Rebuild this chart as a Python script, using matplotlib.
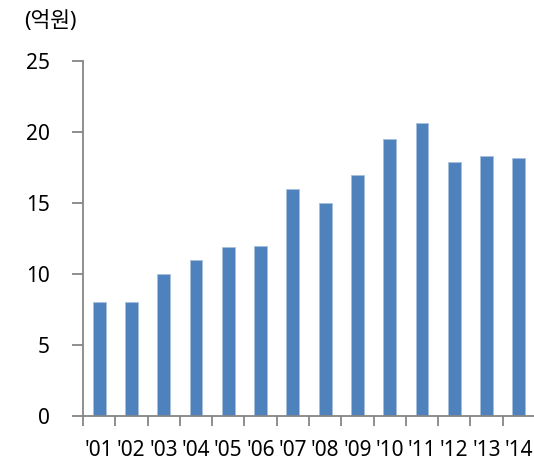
import matplotlib
matplotlib.use("Agg")
import matplotlib.pyplot as plt
import numpy as np

plt.rcParams['font.family'] = ['Noto Sans', 'Noto Sans CJK KR', 'DejaVu Sans']

years = ["'01", "'02", "'03", "'04", "'05", "'06", "'07",
         "'08", "'09", "'10", "'11", "'12", "'13", "'14"]
values = [8.0, 8.0, 10.0, 11.0, 11.9, 12.0, 16.0,
          15.0, 17.0, 19.5, 20.6, 17.9, 18.3, 18.2]
y_ticks = [0, 5, 10, 15, 20, 25]
unit_label = "(억원)"

bar_color = "#4F81BD"
axis_color = "#868686"

fig = plt.figure(figsize=(5.34, 4.62), dpi=100)
ax = fig.add_axes([83 / 534, 1 - 416 / 462, 452 / 534, 355 / 462])

x = np.arange(len(years)) + 0.5
ax.bar(x, values, width=0.4, color=bar_color, edgecolor="#A7C0DE", linewidth=0.6)

ax.set_xlim(0, len(years))
ax.set_ylim(0, 25)

ax.set_yticks(y_ticks)
ax.set_yticklabels([str(t) for t in y_ticks], fontsize=15)
ax.tick_params(axis="y", direction="out", length=8, width=1.3,
               color=axis_color, pad=16)

ax.set_xticks(np.arange(len(years) + 1))
ax.set_xticklabels([])
ax.set_xticks(x, minor=True)
ax.set_xticklabels(years, minor=True, fontsize=15)
ax.tick_params(axis="x", which="major", direction="out", length=7,
               width=1.3, color=axis_color)
ax.tick_params(axis="x", which="minor", length=0, pad=17)

for side in ("top", "right"):
    ax.spines[side].set_visible(False)
for side in ("left", "bottom"):
    ax.spines[side].set_color(axis_color)
    ax.spines[side].set_linewidth(1.3)

fig.text(50 / 534, 1 - 22 / 462, unit_label, fontsize=15.5,
         ha="center", va="center")

fig.savefig("out.png", dpi=100)
